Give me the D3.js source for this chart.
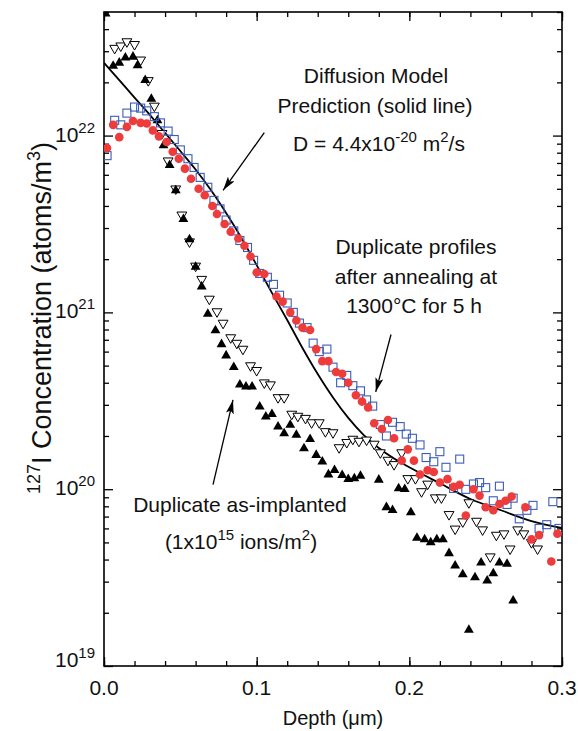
<!DOCTYPE html>
<html>
<head>
<meta charset="utf-8">
<script src="https://cdn.jsdelivr.net/npm/d3@7"></script>
<style>
  body { margin: 0; background: #fff; }
  svg text { font-family: "Liberation Sans", Arial, Helvetica, sans-serif; fill: #111; }
</style>
</head>
<body>
<svg id="chart" width="578" height="731"></svg>
<script>
// depth (um), 127I concentration (atoms/m^3)
const asImplantedOpen = [
  [0.007,3.12e22],[0.011,3.22e22],[0.015,3.40e22],[0.020,3.28e22],[0.024,2.68e22],[0.029,2.05e22],
  [0.033,1.47e22],[0.038,1.03e22],[0.042,7.2e21],[0.047,5.0e21],[0.051,3.56e21],[0.056,2.51e21],
  [0.060,1.83e21],[0.064,1.54e21],[0.069,1.19e21],[0.074,1.01e21],[0.078,8.7e20],[0.083,7.2e20],
  [0.087,6.7e20],[0.091,6.2e20],[0.096,5.0e20],[0.100,4.7e20],[0.105,4.0e20],[0.109,3.9e20],
  [0.114,3.3e20],[0.118,3.3e20],[0.123,2.66e20],[0.127,2.59e20],[0.132,2.52e20],[0.136,2.38e20],
  [0.141,2.38e20],[0.145,2.12e20],[0.150,2.09e20],[0.154,1.72e20],[0.159,1.84e20],[0.163,1.92e20],
  [0.167,1.87e20],[0.172,1.90e20],[0.177,1.80e20],[0.181,1.61e20],[0.186,1.46e20],[0.190,1.38e20],
  [0.195,1.61e20],[0.199,1.15e20],[0.204,1.15e20],[0.208,9.7e19],[0.212,1.07e20],[0.217,8.95e19],
  [0.221,8.95e19],[0.226,7.2e19],[0.230,5.96e19],[0.235,6.55e19],[0.239,8.4e19],[0.244,6.6e19],
  [0.248,5.9e19],[0.253,4.15e19],[0.257,5.5e19],[0.262,5.6e19],[0.266,4.6e19],[0.271,5.9e19],
  [0.275,5.6e19],[0.280,5.0e19],[0.284,4.6e19]
];
const asImplantedFilled = [
  [0.001,4.9e22],[0.006,2.48e22],[0.010,2.58e22],[0.014,2.76e22],[0.019,2.79e22],[0.022,2.49e22],
  [0.027,2.06e22],[0.031,1.61e22],[0.035,1.22e22],[0.039,8.8e21],[0.043,6.8e21],[0.047,4.9e21],
  [0.052,3.37e21],[0.056,2.59e21],[0.060,1.81e21],[0.064,1.40e21],[0.068,9.8e20],[0.073,7.9e20],
  [0.077,6.6e20],[0.080,5.7e20],[0.085,4.9e20],[0.089,3.9e20],[0.093,3.8e20],[0.097,3.8e20],
  [0.102,2.93e20],[0.106,2.57e20],[0.110,2.66e20],[0.114,2.26e20],[0.118,2.07e20],[0.122,2.31e20],
  [0.126,2.03e20],[0.131,1.70e20],[0.135,1.92e20],[0.139,1.56e20],[0.143,1.43e20],[0.147,1.21e20],
  [0.151,1.28e20],[0.156,1.20e20],[0.160,1.14e20],[0.164,1.15e20],[0.168,1.19e20],[0.180,1.13e20],
  [0.185,7.9e19],[0.189,7.6e19],[0.193,1.01e20],[0.197,1.0e20],[0.201,7.4e19],[0.205,5.3e19],
  [0.210,5.2e19],[0.214,5.0e19],[0.218,5.2e19],[0.222,5.2e19],[0.226,4.34e19],[0.230,3.69e19],
  [0.235,3.30e19],[0.239,1.60e19],[0.243,3.17e19],[0.247,3.84e19],[0.251,3.04e19],[0.255,3.34e19],
  [0.259,3.84e19],[0.264,3.78e19],[0.268,2.34e19]
];
const annealedSquares = [
  [0.002,7.7e21],[0.007,1.22e22],[0.011,1.15e22],[0.015,1.34e22],[0.020,1.45e22],[0.024,1.43e22],
  [0.028,1.38e22],[0.033,1.28e22],[0.037,1.18e22],[0.042,1.06e22],[0.046,9.5e21],[0.050,8.3e21],
  [0.055,7.4e21],[0.059,6.6e21],[0.063,5.8e21],[0.068,5.1e21],[0.072,4.3e21],[0.076,3.85e21],
  [0.080,3.33e21],[0.085,2.89e21],[0.089,2.55e21],[0.094,2.33e21],[0.098,1.97e21],[0.102,1.66e21],
  [0.107,1.58e21],[0.111,1.44e21],[0.115,1.25e21],[0.120,1.13e21],[0.124,1.00e21],[0.128,8.7e20],
  [0.133,8.2e20],[0.137,6.7e20],[0.141,6.0e20],[0.146,6.2e20],[0.150,4.9e20],[0.155,4.0e20],
  [0.159,4.4e20],[0.163,3.85e20],[0.168,3.6e20],[0.172,3.2e20],[0.176,2.95e20],[0.181,2.32e20],
  [0.185,2.0e20],[0.189,2.39e20],[0.194,2.26e20],[0.198,2.05e20],[0.202,1.94e20],[0.207,1.78e20],
  [0.211,1.51e20],[0.216,1.43e20],[0.220,1.63e20],[0.224,1.33e20],[0.229,1.01e20],[0.233,1.48e20],
  [0.237,9.98e19],[0.242,1.07e20],[0.246,1.09e20],[0.250,1.02e20],[0.255,8.6e19],[0.259,1.04e20],
  [0.264,8.2e19],[0.268,8.9e19],[0.272,6.8e19],[0.277,7.6e19],[0.281,8.1e19],[0.285,6.0e19],
  [0.290,6.3e19],[0.294,8.5e19],[0.298,6.0e19]
];
const annealedCircles = [
  [0.002,8.5e21],[0.006,1.15e22],[0.010,9.8e21],[0.015,1.12e22],[0.019,1.21e22],[0.024,1.18e22],
  [0.028,1.17e22],[0.032,1.07e22],[0.036,9.9e21],[0.041,9.2e21],[0.045,8.1e21],[0.049,7.4e21],
  [0.053,6.5e21],[0.057,5.7e21],[0.062,5.0e21],[0.066,4.6e21],[0.071,4.0e21],[0.074,3.6e21],
  [0.079,3.16e21],[0.083,2.86e21],[0.088,2.62e21],[0.092,2.38e21],[0.096,2.07e21],[0.100,1.68e21],
  [0.105,1.65e21],[0.113,1.23e21],[0.117,1.15e21],[0.122,1.0e21],[0.126,9.0e20],[0.130,8.2e20],
  [0.135,7.95e20],[0.139,6.2e20],[0.143,5.3e20],[0.147,5.3e20],[0.152,4.6e20],[0.156,4.5e20],
  [0.160,4.0e20],[0.165,3.4e20],[0.169,3.13e20],[0.173,2.9e20],[0.177,2.36e20],[0.182,2.19e20],
  [0.186,2.46e20],[0.190,1.94e20],[0.195,1.45e20],[0.199,1.68e20],[0.203,1.45e20],[0.207,1.21e20],
  [0.212,1.28e20],[0.216,1.25e20],[0.220,1.09e20],[0.225,1.14e20],[0.229,1.03e20],[0.233,1.06e20],
  [0.237,7.1e19],[0.242,1.0e20],[0.246,9.2e19],[0.250,7.9e19],[0.255,7.6e19],[0.259,8.25e19],
  [0.263,8.6e19],[0.267,9.1e19],[0.276,7.9e19],[0.280,5.2e19],[0.285,5.5e19],[0.293,3.9e19],
  [0.297,5.6e19]
];
// diffusion model prediction, D = 4.4e-20 m^2/s
const modelDepth = [0,0.01,0.02,0.03,0.04,0.05,0.06,0.07,0.08,0.09,0.10,0.11,0.12,0.13,0.14,0.15,
                    0.16,0.17,0.18,0.19,0.20,0.22,0.24,0.26,0.28,0.30];
const modelConc = [2.58e22,2.06e22,1.64e22,1.31e22,1.035e22,8.18e21,6.43e21,4.92e21,3.65e21,2.64e21,
                   1.85e21,1.29e21,9.06e20,6.29e20,4.48e20,3.30e20,2.53e20,2.03e20,1.71e20,1.49e20,
                   1.33e20,1.08e20,8.8e19,7.6e19,6.6e19,6.03e19];

const xMajor = [0, 0.1, 0.2, 0.3];
const xMinor = d3.range(0, 0.3001, 0.02);
const yMajor = [1e19, 1e20, 1e21, 1e22];
const yMinor = [];
[19, 20, 21, 22].forEach(e => { for (let k = 2; k <= 9; k++) { if (k * Math.pow(10, e) <= 5e22) yMinor.push(k * Math.pow(10, e)); } });

const margin = {top: 12, right: 16, bottom: 65, left: 104};
const width = 578, height = 731;
const svg = d3.select("#chart");

const x = d3.scaleLinear().domain([0, 0.3]).range([margin.left, width - margin.right]);
const y = d3.scaleLog().domain([1e19, 5e22]).range([height - margin.bottom, margin.top]);

svg.append("defs").append("clipPath").attr("id", "plotclip")
  .append("rect")
  .attr("x", margin.left).attr("y", margin.top)
  .attr("width", x(0.3) - x(0)).attr("height", y(1e19) - y(5e22));

// ticks (inward on all four sides)
function tickAxis(axis, tr, values, size) {
  const g = svg.append("g").attr("transform", tr)
    .call(axis.tickValues(values).tickSize(size).tickFormat(""));
  g.select(".domain").remove();
  g.selectAll("line").attr("stroke", "#000").attr("stroke-width", 1.3);
}
const bottomY = y(1e19), topY = y(5e22), leftX = x(0), rightX = x(0.3);
tickAxis(d3.axisBottom(x), `translate(0,${bottomY})`, xMinor, -5);
tickAxis(d3.axisBottom(x), `translate(0,${bottomY})`, xMajor, -9);
tickAxis(d3.axisTop(x), `translate(0,${topY})`, xMinor, -5);
tickAxis(d3.axisTop(x), `translate(0,${topY})`, xMajor, -9);
tickAxis(d3.axisLeft(y), `translate(${leftX},0)`, yMinor, -5);
tickAxis(d3.axisLeft(y), `translate(${leftX},0)`, yMajor, -9);
tickAxis(d3.axisRight(y), `translate(${rightX},0)`, yMinor, -5);
tickAxis(d3.axisRight(y), `translate(${rightX},0)`, yMajor, -9);

svg.append("rect")
  .attr("x", leftX).attr("y", topY)
  .attr("width", rightX - leftX).attr("height", bottomY - topY)
  .attr("fill", "none").attr("stroke", "#000").attr("stroke-width", 1.6);

// tick labels
svg.selectAll("text.xlab").data(xMajor).enter().append("text")
  .attr("class", "xlab")
  .attr("x", d => x(d)).attr("y", bottomY + 29)
  .attr("text-anchor", "middle").attr("font-size", 21)
  .text(d => d.toFixed(1));

const ylab = svg.selectAll("text.ylab").data(yMajor).enter().append("text")
  .attr("class", "ylab")
  .attr("x", leftX - 9).attr("y", d => y(d) + (d === 1e19 ? 1 : 6))
  .attr("text-anchor", "end").attr("font-size", 21);
ylab.append("tspan").text("10");
ylab.append("tspan").attr("dy", -9).attr("font-size", 15).text(d => Math.round(Math.log10(d)));

// axis titles
svg.append("text")
  .attr("x", (leftX + rightX) / 2).attr("y", 725)
  .attr("text-anchor", "middle").attr("font-size", 20)
  .text("Depth (\u03bcm)");

const yt = svg.append("text")
  .attr("transform", `translate(51,318) rotate(-90)`)
  .attr("text-anchor", "middle").attr("font-size", 27);
yt.append("tspan").attr("font-size", 18).attr("dy", -11).text("127");
yt.append("tspan").attr("dy", 11).text("I Concentration (atoms/m");
yt.append("tspan").attr("font-size", 18).attr("dy", -11).text("3");
yt.append("tspan").attr("dy", 11).text(")");

// data
const plot = svg.append("g").attr("clip-path", "url(#plotclip)");

const model = modelDepth.map((d, i) => [d, modelConc[i]]);
plot.append("path")
  .datum(model)
  .attr("fill", "none").attr("stroke", "#000").attr("stroke-width", 1.8)
  .attr("d", d3.line().x(d => x(d[0])).y(d => y(d[1])).curve(d3.curveMonotoneX));

const triUp = d3.symbol().type(d3.symbolTriangle).size(42);
plot.selectAll("path.tdown").data(asImplantedOpen).enter().append("path")
  .attr("class", "tdown")
  .attr("d", triUp)
  .attr("transform", d => `translate(${x(d[0])},${y(d[1])}) rotate(180)`)
  .attr("fill", "#fff").attr("stroke", "#000").attr("stroke-width", 1);

plot.selectAll("path.tup").data(asImplantedFilled).enter().append("path")
  .attr("class", "tup")
  .attr("d", triUp)
  .attr("transform", d => `translate(${x(d[0])},${y(d[1])})`)
  .attr("fill", "#000");

plot.selectAll("rect.sq").data(annealedSquares).enter().append("rect")
  .attr("class", "sq")
  .attr("x", d => x(d[0]) - 4).attr("y", d => y(d[1]) - 4)
  .attr("width", 8).attr("height", 8)
  .attr("fill", "none").attr("stroke", "#3b5db8").attr("stroke-width", 1.1);

plot.selectAll("circle.rc").data(annealedCircles).enter().append("circle")
  .attr("class", "rc")
  .attr("cx", d => x(d[0])).attr("cy", d => y(d[1])).attr("r", 4.3)
  .attr("fill", "#ee3b3b");

// annotations
svg.append("defs").append("marker")
  .attr("id", "arrow").attr("markerUnits", "userSpaceOnUse")
  .attr("viewBox", "0 0 14 8").attr("refX", 14).attr("refY", 4)
  .attr("markerWidth", 14).attr("markerHeight", 8).attr("orient", "auto")
  .append("path").attr("d", "M0,0 L14,4 L0,8 L3,4 z").attr("fill", "#000");

const arrows = [
  [[0.105, 1.04e22], [0.078, 4.9e21]],
  [[0.188, 7.5e20], [0.178, 3.55e20]],
  [[0.0714, 1.06e20], [0.0845, 3.2e20]]
];
arrows.forEach(a => {
  svg.append("line")
    .attr("x1", x(a[0][0])).attr("y1", y(a[0][1]))
    .attr("x2", x(a[1][0])).attr("y2", y(a[1][1]))
    .attr("stroke", "#000").attr("stroke-width", 1.3)
    .attr("marker-end", "url(#arrow)");
});

function label(lines, fs) {
  lines.forEach(l => {
    const t = svg.append("text").attr("x", l.x).attr("y", l.y)
      .attr("text-anchor", "middle").attr("font-size", fs);
    l.parts.forEach(p => {
      if (p.sup) t.append("tspan").attr("dy", -9).attr("font-size", 15).text(p.sup);
      else t.append("tspan").attr("dy", p.after ? 9 : 0).text(p.t);
    });
  });
}
label([
  {x: 376, y: 83, parts: [{t: "Diffusion Model"}]},
  {x: 375, y: 113, parts: [{t: "Prediction (solid line)"}]},
  {x: 379, y: 151, parts: [{t: "D = 4.4x10"}, {sup: "-20"}, {t: " m", after: true}, {sup: "2"}, {t: "/s", after: true}]}
], 21);
label([
  {x: 416, y: 254, parts: [{t: "Duplicate profiles"}]},
  {x: 416, y: 284, parts: [{t: "after annealing at"}]},
  {x: 414, y: 313, parts: [{t: "1300\u00b0C for 5 h"}]}
], 21);
label([
  {x: 240, y: 512, parts: [{t: "Duplicate as-implanted"}]},
  {x: 241, y: 549, parts: [{t: "(1x10"}, {sup: "15"}, {t: " ions/m", after: true}, {sup: "2"}, {t: ")", after: true}]}
], 21);
</script>
</body>
</html>
